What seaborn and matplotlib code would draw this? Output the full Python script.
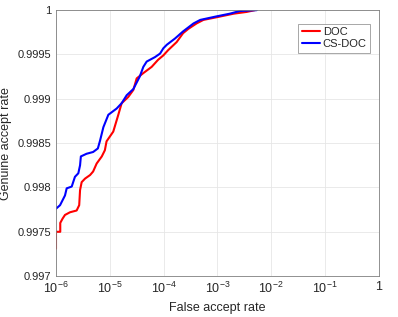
import numpy as np
import pandas as pd
import matplotlib
matplotlib.use("Agg")
import matplotlib.pyplot as plt
import seaborn as sns

# curve points (false accept rate, genuine accept rate)
doc_far = [1e-6, 1e-6, 1.2e-6, 1.2e-6, 1.33e-6, 1.47e-6, 1.82e-6, 2.42e-6, 2.7e-6, 2.8e-6,
           3.0e-6, 3.47e-6, 4.3e-6, 4.9e-6, 5.7e-6, 7.1e-6, 8.1e-6, 8.7e-6, 1.16e-5, 1.44e-5,
           1.66e-5, 2.2e-5, 2.74e-5, 3.16e-5, 4.2e-5, 6.0e-5, 7.9e-5, 9.9e-5, 1.22e-4, 1.75e-4,
           2.3e-4, 2.9e-4, 4.1e-4, 5.5e-4, 9.7e-4, 2.0e-3, 3.5e-3, 5.0e-3]
doc_gar = [0.99731, 0.99750, 0.99750, 0.99760, 0.99765, 0.99769, 0.99772, 0.99774, 0.99780, 0.99797,
           0.99806, 0.99810, 0.99814, 0.99818, 0.99827, 0.99835, 0.99842, 0.99852, 0.99863, 0.99882,
           0.99895, 0.99902, 0.99910, 0.99923, 0.99929, 0.99936, 0.99944, 0.99949, 0.99955, 0.99964,
           0.99974, 0.99979, 0.99985, 0.99989, 0.99992, 0.99996, 0.99998, 1.0]

csdoc_far = [1e-6, 1.19e-6, 1.47e-6, 1.58e-6, 1.96e-6, 2.25e-6, 2.6e-6, 2.8e-6, 2.9e-6, 3.7e-6,
             4.9e-6, 6.0e-6, 6.6e-6, 7.6e-6, 9.4e-6, 1.34e-5, 1.66e-5, 2.06e-5, 2.74e-5, 3.6e-5,
             4.2e-5, 4.85e-5, 6.9e-5, 8.6e-5, 9.9e-5, 1.15e-4, 1.63e-4, 2.3e-4, 3.6e-4, 4.8e-4,
             9.7e-4, 1.7e-3, 2.6e-3, 5.4e-3]
csdoc_gar = [0.99776, 0.99780, 0.99791, 0.99799, 0.99801, 0.99812, 0.99816, 0.99825, 0.99835, 0.99838,
             0.99840, 0.99844, 0.99853, 0.99868, 0.99882, 0.99889, 0.99895, 0.99904, 0.99911, 0.99925,
             0.99936, 0.99942, 0.99947, 0.99951, 0.99957, 0.99961, 0.99968, 0.99976, 0.99985, 0.99989,
             0.99993, 0.99996, 0.99999, 1.0]

x_ticks = [1e-6, 1e-5, 1e-4, 1e-3, 1e-2, 1e-1, 1]
x_labels = ["$10^{-6}$", "$10^{-5}$", "$10^{-4}$", "$10^{-3}$", "$10^{-2}$", "$10^{-1}$", "1"]
y_ticks = [0.997, 0.9975, 0.998, 0.9985, 0.999, 0.9995, 1.0]

df = pd.concat([
    pd.DataFrame({"far": doc_far, "gar": doc_gar, "method": "DOC"}),
    pd.DataFrame({"far": csdoc_far, "gar": csdoc_gar, "method": "CS-DOC"}),
])

sns.set_style("white")
plt.rcParams["font.family"] = ["Liberation Sans", "DejaVu Sans"]
plt.rcParams["mathtext.fontset"] = "custom"
plt.rcParams["mathtext.rm"] = "Liberation Sans"
plt.rcParams["mathtext.it"] = "Liberation Sans"

fig = plt.figure(figsize=(3.98, 3.17), dpi=100)
ax = fig.add_axes([0.1407, 0.129, 0.811, 0.839])

sns.lineplot(data=df, x="far", y="gar", hue="method", palette={"DOC": "#ff0000", "CS-DOC": "#0000ff"},
             estimator=None, sort=False, linewidth=1.5, ax=ax)

ax.set_xscale("log")
ax.set_xlim(1e-6, 1)
ax.set_ylim(0.997, 1.0)
ax.set_xticks(x_ticks)
ax.set_xticklabels(x_labels)
ax.minorticks_off()
ax.set_yticks(y_ticks)
ax.set_yticklabels(["%g" % v for v in y_ticks])
ax.grid(True, color="#e6e6e6", linewidth=0.6)
ax.tick_params(direction="in", length=3, labelsize=8, colors="#262626", width=0.5)
ax.tick_params(axis="x", labelsize=9)
for s in ax.spines.values():
    s.set_color("#7f7f7f")
    s.set_linewidth(0.6)
ax.set_xlabel("False accept rate", fontsize=9, color="#262626")
ax.set_ylabel("Genuine accept rate", fontsize=9, color="#262626")

leg = ax.legend(loc="upper right", bbox_to_anchor=(0.99, 0.97), fontsize=8, frameon=True, fancybox=False,
                handlelength=1.7, handletextpad=0.2, borderpad=0.3, labelspacing=0.2)
leg.get_frame().set_edgecolor("#7f7f7f")
leg.get_frame().set_linewidth(0.6)
leg.set_title(None)

fig.savefig("out.png", dpi=100)
